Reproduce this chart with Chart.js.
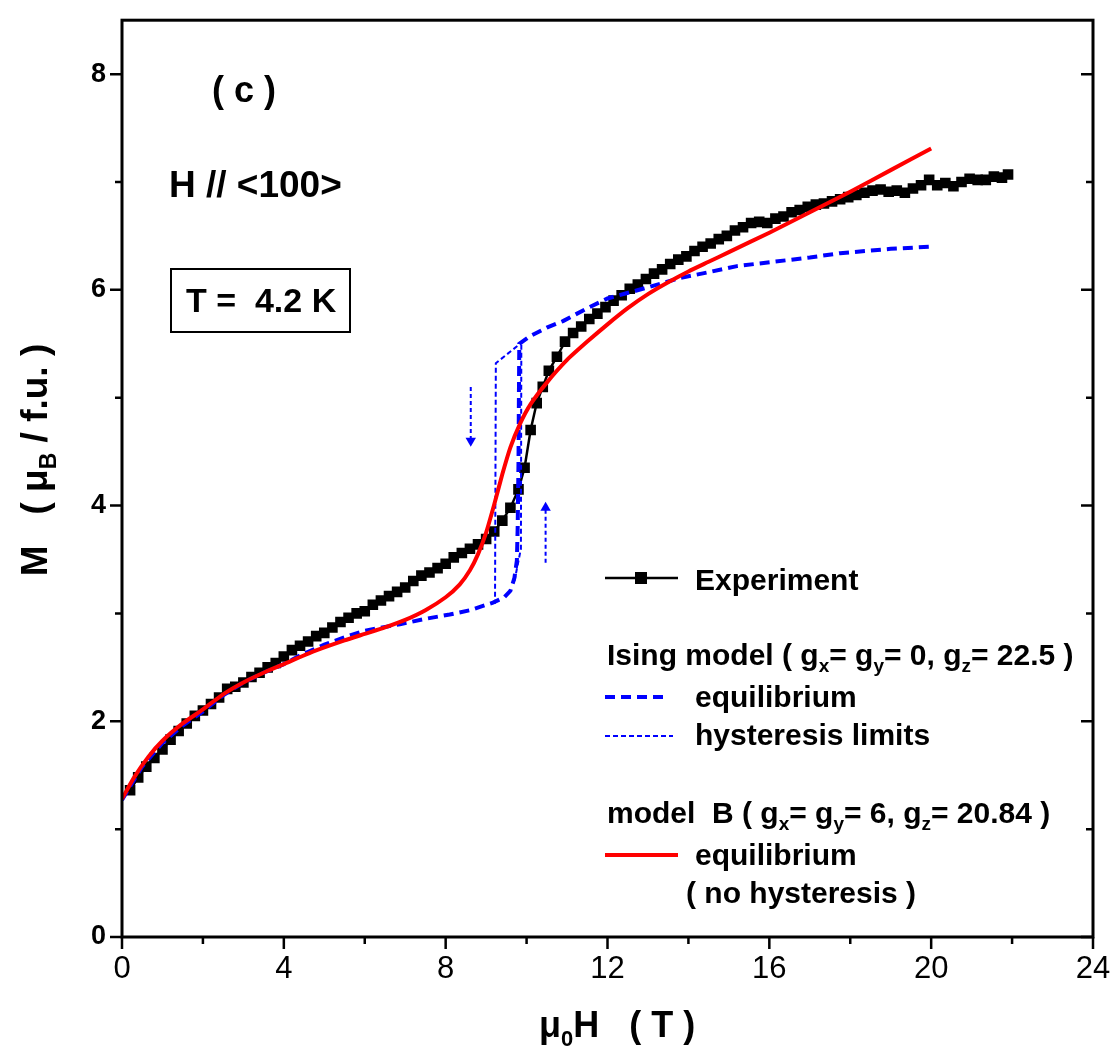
<!DOCTYPE html>
<html>
<head>
<meta charset="utf-8">
<script src="https://cdn.jsdelivr.net/npm/chart.js@4.4.1/dist/chart.umd.min.js"></script>
<style>
  html, body { margin: 0; padding: 0; background: #fff; }
</style>
</head>
<body>
<canvas id="mh" width="1114" height="1052"></canvas>
<script>
// ---- data ----
var xTicks = [0, 4, 8, 12, 16, 20, 24];
var yTicks = [0, 2, 4, 6, 8];

// experiment (black squares)
var expX = [0.2, 0.4, 0.6, 0.8, 1.0, 1.2, 1.4, 1.6, 1.8, 2.0, 2.2, 2.4, 2.6, 2.8, 3.0, 3.2, 3.4, 3.6, 3.8, 4.0,
  4.2, 4.4, 4.6, 4.8, 5.0, 5.2, 5.4, 5.6, 5.8, 6.0, 6.2, 6.4, 6.6, 6.8, 7.0, 7.2, 7.4, 7.6, 7.8, 8.0,
  8.2, 8.4, 8.6, 8.8, 9.0, 9.2, 9.4, 9.6, 9.8, 9.95, 10.1, 10.25, 10.4, 10.55, 10.75, 10.95, 11.15, 11.35, 11.55, 11.75,
  11.95, 12.15, 12.35, 12.55, 12.75, 12.95, 13.15, 13.35, 13.55, 13.75, 13.95, 14.15, 14.35, 14.55, 14.75, 14.95, 15.15, 15.35, 15.55, 15.75,
  15.95, 16.15, 16.35, 16.55, 16.75, 16.95, 17.15, 17.35, 17.55, 17.75, 17.95, 18.15, 18.35, 18.55, 18.75, 18.95, 19.15, 19.35, 19.55, 19.75,
  19.95, 20.15, 20.35, 20.55, 20.75, 20.95, 21.15, 21.35, 21.55, 21.75, 21.9];
var expY = [1.36, 1.48, 1.58, 1.66, 1.74, 1.83, 1.91, 1.98, 2.05, 2.10, 2.16, 2.22, 2.30, 2.32, 2.36, 2.41, 2.45, 2.50, 2.54, 2.60,
  2.66, 2.70, 2.74, 2.79, 2.82, 2.87, 2.92, 2.96, 3.00, 3.02, 3.08, 3.12, 3.16, 3.20, 3.24, 3.30, 3.35, 3.38, 3.42, 3.46,
  3.52, 3.56, 3.60, 3.64, 3.69, 3.76, 3.86, 3.98, 4.15, 4.35, 4.70, 4.95, 5.10, 5.25, 5.38, 5.52, 5.60, 5.66, 5.73, 5.78,
  5.84, 5.90, 5.95, 6.01, 6.05, 6.10, 6.15, 6.19, 6.24, 6.28, 6.31, 6.36, 6.40, 6.43, 6.47, 6.50, 6.55, 6.58, 6.62, 6.63,
  6.62, 6.66, 6.68, 6.72, 6.74, 6.77, 6.79, 6.80, 6.82, 6.84, 6.86, 6.88, 6.90, 6.92, 6.93, 6.91, 6.92, 6.90, 6.94, 6.97,
  7.02, 6.97, 6.99, 6.96, 7.00, 7.03, 7.02, 7.02, 7.05, 7.04, 7.07];

// Ising model, equilibrium (thick blue dashes)
var isingX = [0, 0.5, 1.0, 1.5, 2.0, 2.5, 3.0, 3.5, 4.0, 4.4, 5.0, 5.5, 6.0, 6.87, 7.5, 8.1, 8.6, 9.17, 9.45, 9.6,
  9.7, 9.76, 9.78, 9.8, 9.81, 9.82, 10.08, 10.5, 10.9, 11.5, 12.0, 12.97, 13.8, 14.45, 15.2, 16.1, 17.0, 17.75, 19.0, 20.0];
var isingY = [1.27, 1.58, 1.80, 1.96, 2.09, 2.24, 2.36, 2.45, 2.53, 2.61, 2.71, 2.78, 2.84, 2.90, 2.95, 2.99, 3.03, 3.10, 3.15, 3.21,
  3.33, 3.49, 3.80, 4.40, 5.00, 5.50, 5.57, 5.65, 5.71, 5.83, 5.92, 6.02, 6.11, 6.16, 6.22, 6.26, 6.30, 6.34, 6.38, 6.40];

// Ising model, hysteresis limits (thin blue dashes)
var hystDownX = [9.17, 9.22, 9.24, 9.84];
var hystDownY = [3.10, 3.10, 5.32, 5.50];
var hystUpX = [9.7, 9.86, 9.87];
var hystUpY = [3.30, 3.60, 5.50];

// model B, equilibrium (red)
var modelBX = [0, 0.3, 0.65, 1.0, 1.5, 2.0, 2.5, 3.0, 3.5, 4.0, 4.75, 5.5, 6.0, 6.5, 7.0, 7.5, 8.0, 8.35, 8.6, 8.8,
  9.0, 9.2, 9.4, 9.6, 9.84, 10.1, 10.5, 11.0, 11.5, 12.0, 12.5, 13.0, 13.5, 14.0, 14.5, 15.0, 16.0, 17.0, 18.0, 19.0, 20.0];
var modelBY = [1.28, 1.48, 1.67, 1.82, 1.98, 2.11, 2.25, 2.36, 2.45, 2.53, 2.65, 2.75, 2.81, 2.87, 2.94, 3.03, 3.15, 3.27, 3.40, 3.55,
  3.75, 4.01, 4.29, 4.54, 4.76, 4.94, 5.14, 5.35, 5.52, 5.68, 5.83, 5.96, 6.07, 6.17, 6.26, 6.35, 6.53, 6.72, 6.91, 7.11, 7.31];

// small dashed arrows
var arrowDownX = [8.62, 8.62];
var arrowDownY = [5.10, 4.60];
var arrowUpX = [10.47, 10.47];
var arrowUpY = [3.47, 3.98];

var BLUE = '#0000ff';
var RED = '#ff0000';
var SANS = "'Liberation Sans', Arial, sans-serif";
var NARROW = "'Liberation Sans Narrow', 'Liberation Sans', Arial, sans-serif";

function pts(xs, ys) {
  return xs.map(function (x, i) { return { x: x, y: ys[i] }; });
}

// text with subscripts: parts = [[text, isSub], ...]
function drawRich(ctx, parts, x, y, size, family, measureOnly) {
  var cx = x;
  parts.forEach(function (p) {
    var s = p[1] ? Math.round(size * 0.62) : size;
    ctx.font = 'bold ' + s + 'px ' + family;
    if (!measureOnly) ctx.fillText(p[0], cx, y + (p[1] ? size * 0.24 : 0));
    cx += ctx.measureText(p[0]).width;
  });
  return cx - x;
}

var decorations = {
  id: 'decorations',
  afterDraw: function (chart) {
    var ctx = chart.ctx;
    var a = chart.chartArea;
    var xs = chart.scales.x, ys = chart.scales.y;
    ctx.save();
    ctx.fillStyle = '#000';
    ctx.strokeStyle = '#000';

    // frame
    ctx.lineWidth = 3;
    ctx.strokeRect(a.left, a.top, a.right - a.left, a.bottom - a.top);

    // tick marks
    ctx.lineWidth = 2.5;
    ctx.beginPath();
    xs.ticks.forEach(function (t) {
      var px = xs.getPixelForValue(t.value);
      var len = t.value % 4 === 0 ? 12 : 7;
      ctx.moveTo(px, a.bottom);
      ctx.lineTo(px, a.bottom + len);
    });
    ys.ticks.forEach(function (t) {
      var py = ys.getPixelForValue(t.value);
      var len = t.value % 2 === 0 ? 12 : 7;
      ctx.moveTo(a.left, py);
      ctx.lineTo(a.left - len, py);
      ctx.moveTo(a.right, py);
      ctx.lineTo(a.right - len, py);
    });
    ctx.stroke();

    // axis titles
    ctx.textBaseline = 'alphabetic';
    var xt = [['\u03bc', false], ['0', true], ['H   ( T )', false]];
    var w = drawRich(ctx, xt, 0, 0, 36, NARROW, true);
    drawRich(ctx, xt, 617 - w / 2, 1037, 36, NARROW);

    var yt = [['M   ( \u03bc', false], ['B', true], [' / f.u. )', false]];
    ctx.save();
    ctx.translate(47, 460);
    ctx.rotate(-Math.PI / 2);
    w = drawRich(ctx, yt, 0, 0, 37, SANS, true);
    drawRich(ctx, yt, -w / 2, 0, 37, SANS);
    ctx.restore();

    // annotations
    drawRich(ctx, [['( c )', false]], 212, 102, 36, SANS);
    drawRich(ctx, [['H // <100>', false]], 169, 197, 37, SANS);
    ctx.lineWidth = 2;
    ctx.strokeRect(171, 269, 179, 63);
    drawRich(ctx, [['T =  4.2 K', false]], 186, 312, 34, SANS);

    // legend
    var ds = chart.data.datasets;
    function sample(d, x0, x1, y) {
      ctx.save();
      ctx.strokeStyle = d.borderColor;
      ctx.lineWidth = d.borderWidth;
      ctx.setLineDash(d.borderDash || []);
      ctx.beginPath();
      ctx.moveTo(x0, y);
      ctx.lineTo(x1, y);
      ctx.stroke();
      ctx.restore();
    }
    var fs = 30;
    sample(ds[0], 605, 678, 578);
    ctx.fillRect(635, 572, 12, 12);
    drawRich(ctx, [['Experiment', false]], 695, 590, fs, SANS);

    drawRich(ctx, [['Ising model ( g', false], ['x', true], ['= g', false], ['y', true], ['= 0, g', false], ['z', true], ['= 22.5 )', false]], 607, 665, fs, SANS);
    sample(ds[2], 605, 668, 697);
    drawRich(ctx, [['equilibrium', false]], 695, 707, fs, SANS);
    sample(ds[3], 605, 673, 736);
    drawRich(ctx, [['hysteresis limits', false]], 695, 745, fs, SANS);

    drawRich(ctx, [['model  B ( g', false], ['x', true], ['= g', false], ['y', true], ['= 6, g', false], ['z', true], ['= 20.84 )', false]], 607, 823, fs, SANS);
    sample(ds[1], 605, 678, 855);
    drawRich(ctx, [['equilibrium', false]], 695, 865, fs, SANS);
    drawRich(ctx, [['( no hysteresis )', false]], 686, 903, fs, SANS);

    ctx.restore();
  }
};

var arrowStyle = {
  type: 'line',
  borderColor: BLUE,
  backgroundColor: BLUE,
  borderWidth: 2,
  borderDash: [4, 3],
  pointStyle: 'triangle',
  pointRadius: [0, 6],
  pointBorderWidth: 0,
  order: 1
};

var ctxEl = document.getElementById('mh');
new Chart(ctxEl, {
  type: 'scatter',
  data: {
    datasets: [
      {
        label: 'Experiment',
        data: pts(expX, expY),
        showLine: true,
        borderColor: '#000',
        backgroundColor: '#000',
        borderWidth: 2.5,
        pointStyle: 'rect',
        pointRadius: 7.5,
        pointBorderWidth: 0,
        order: 4
      },
      {
        label: 'model B equilibrium',
        data: pts(modelBX, modelBY),
        showLine: true,
        borderColor: RED,
        borderWidth: 4,
        pointRadius: 0,
        tension: 0.2,
        order: 0
      },
      {
        label: 'Ising equilibrium',
        data: pts(isingX, isingY),
        showLine: true,
        borderColor: BLUE,
        borderWidth: 4,
        borderDash: [10, 6],
        pointRadius: 0,
        order: 2
      },
      {
        label: 'hysteresis limits',
        data: pts(hystDownX, hystDownY),
        showLine: true,
        borderColor: BLUE,
        borderWidth: 2,
        borderDash: [5, 3],
        pointRadius: 0,
        order: 1
      },
      {
        label: 'hysteresis limits up',
        data: pts(hystUpX, hystUpY),
        showLine: true,
        borderColor: BLUE,
        borderWidth: 2,
        borderDash: [5, 3],
        pointRadius: 0,
        order: 1
      },
      Object.assign({ label: 'arrow down', data: pts(arrowDownX, arrowDownY), pointRotation: [0, 180] }, arrowStyle),
      Object.assign({ label: 'arrow up', data: pts(arrowUpX, arrowUpY), pointRotation: [0, 0] }, arrowStyle)
    ]
  },
  options: {
    responsive: false,
    animation: false,
    layout: { padding: { left: 0, top: 19, right: 21, bottom: 0 } },
    plugins: {
      legend: { display: false },
      tooltip: { enabled: false }
    },
    scales: {
      x: {
        type: 'linear',
        min: 0,
        max: 24,
        afterFit: function (s) { s.height = 115; },
        afterBuildTicks: function (s) {
          var t = [];
          for (var v = 0; v <= 24; v += 2) t.push({ value: v });
          s.ticks = t;
        },
        ticks: {
          autoSkip: false,
          maxRotation: 0,
          padding: 2,
          color: '#000',
          font: { family: NARROW, size: 31 },
          callback: function (v) { return xTicks.indexOf(v) >= 0 ? String(v) : ''; }
        },
        grid: { display: true, drawOnChartArea: false, drawTicks: true, tickLength: 12, color: 'rgba(0,0,0,0)' },
        border: { display: false }
      },
      y: {
        type: 'linear',
        min: 0,
        max: 8.5,
        afterFit: function (s) { s.width = 122; },
        afterBuildTicks: function (s) {
          var t = [];
          for (var v = 0; v <= 8; v += 1) t.push({ value: v });
          s.ticks = t;
        },
        ticks: {
          autoSkip: false,
          padding: 4,
          color: '#000',
          font: { family: SANS, size: 27, weight: 'bold' },
          callback: function (v) { return yTicks.indexOf(v) >= 0 ? String(v) : ''; }
        },
        grid: { display: true, drawOnChartArea: false, drawTicks: true, tickLength: 12, color: 'rgba(0,0,0,0)' },
        border: { display: false }
      }
    }
  },
  plugins: [decorations]
});
</script>
</body>
</html>
